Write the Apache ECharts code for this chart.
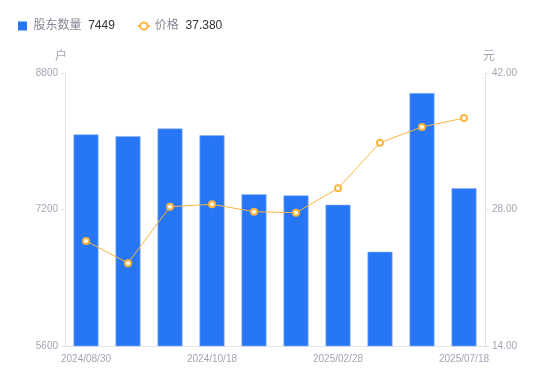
<!DOCTYPE html>
<html><head><meta charset="utf-8">
<script src="https://cdn.jsdelivr.net/npm/echarts@6/dist/echarts.min.js"></script>
<style>html,body{margin:0;padding:0;background:#fff}#c{width:550px;height:381px}</style>
</head><body><div id="c"></div>
<script>
var categories = ['2024/08/30','2024/09/10','2024/09/30','2024/10/18','2024/10/31','2024/12/31','2025/02/28','2025/03/31','2025/06/30','2025/07/18'];
var holders = [8080, 8060, 8150, 8070, 7378, 7366, 7256, 6705, 8565, 7449];
var prices = [24.77, 22.50, 28.29, 28.53, 27.78, 27.67, 30.17, 34.85, 36.46, 37.38];
var leftTicks = [5600, 8800, 1600];
var rightTicks = [14, 42, 14];
var names = ['股东数量', '价格'];
var latest = {'股东数量': '7449', '价格': '37.380'};

var font = '"Liberation Sans", "Noto Sans CJK SC", sans-serif';
var chart = echarts.init(document.getElementById('c'), null, {renderer: 'canvas'});
chart.setOption({
  animation: false,
  textStyle: {fontFamily: font},
  legend: {
    top: 15, left: 13, itemWidth: 12, itemHeight: 9, itemGap: 22, itemTextGap: 4,
    data: [{name: names[0], icon: 'path://M0,0H10V10H0Z', itemStyle: {borderWidth: 0}}, {name: names[1]}],
    formatter: function (n) { return n + '  {v|' + latest[n] + '}'; },
    textStyle: {fontSize: 12, color: '#858794', fontFamily: font,
      rich: {v: {fontSize: 12, color: '#333', fontFamily: font}}}
  },
  grid: {left: 65, right: 65, top: 73, bottom: 35},
  xAxis: {
    type: 'category', data: categories,
    axisLine: {lineStyle: {color: '#e3e3e6'}},
    axisTick: {show: false},
    axisLabel: {interval: 2, color: '#a3a5b3', fontSize: 10, margin: 8, fontFamily: font}
  },
  yAxis: [{
    type: 'value', name: '户', min: leftTicks[0], max: leftTicks[1], interval: leftTicks[2],
    nameTextStyle: {color: '#a3a5b3', fontSize: 12, padding: [0, 8, 0, 0]},
    nameGap: 10,
    axisLine: {show: true, lineStyle: {color: '#e3e3e6'}},
    axisTick: {show: true, length: 4, lineStyle: {color: '#e3e3e6'}},
    axisLabel: {color: '#a3a5b3', fontSize: 10, margin: 7, formatter: function (v) { return String(v); }},
    splitLine: {show: false}
  }, {
    type: 'value', name: '元', min: rightTicks[0], max: rightTicks[1], interval: rightTicks[2],
    nameTextStyle: {color: '#a3a5b3', fontSize: 12, padding: [0, 0, 0, 8]},
    nameGap: 10,
    axisLine: {show: true, lineStyle: {color: '#e3e3e6'}},
    axisTick: {show: true, length: 4, lineStyle: {color: '#e3e3e6'}},
    axisLabel: {color: '#a3a5b3', fontSize: 10, margin: 7, formatter: function (v) { return v.toFixed(2); }},
    splitLine: {show: false}
  }],
  series: [{
    name: names[0], type: 'bar', data: holders, barWidth: 25, yAxisIndex: 0,
    itemStyle: {color: '#2776f6', borderColor: '#8db4fa', borderWidth: 0.6}
  }, {
    name: names[1], type: 'line', data: prices, yAxisIndex: 1,
    symbol: 'emptyCircle', symbolSize: 6,
    lineStyle: {color: '#fbb53f', width: 1},
    itemStyle: {color: '#fbb53f', borderWidth: 2}
  }]
});
</script></body></html>
